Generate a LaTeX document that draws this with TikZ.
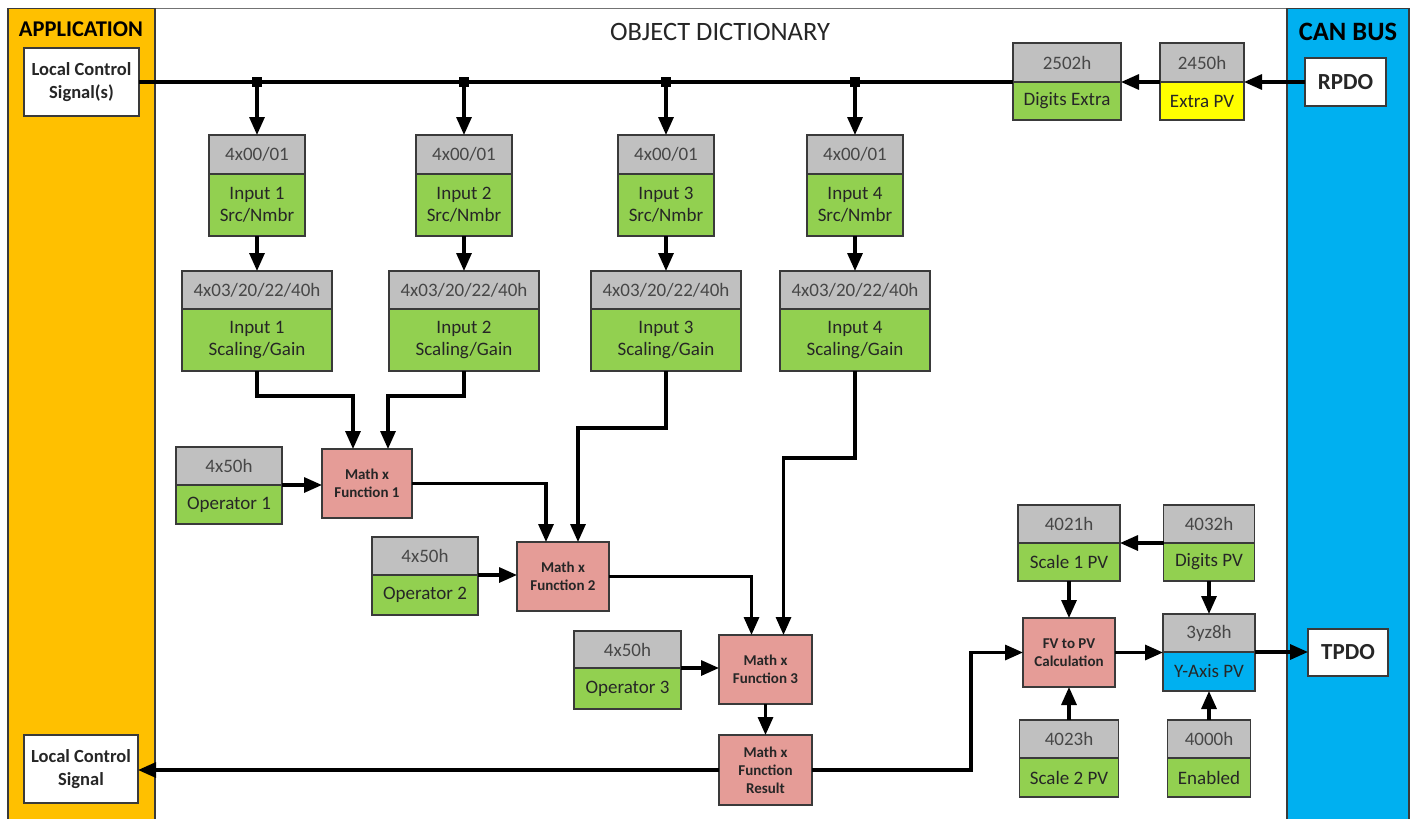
\documentclass[tikz,border=0pt]{standalone}
\usepackage{fontspec}
\setmainfont{Carlito}
\usetikzlibrary{arrows.meta}

\definecolor{appOrange}{HTML}{FFC000}
\definecolor{canBlue}{HTML}{00B0F0}
\definecolor{odGreen}{HTML}{92D050}
\definecolor{odGray}{HTML}{C0C0C0}
\definecolor{mathPink}{HTML}{E59C97}
\definecolor{pvYellow}{HTML}{FFFF00}
\definecolor{edge}{HTML}{3A3A3A}

\begin{document}
\begin{tikzpicture}[x=1pt,y=-1pt,
    box/.style={draw=edge,line width=1.7pt,inner sep=0pt,outer sep=0pt,align=center,text=black!85,font=\fontsize{19}{22}\selectfont},
    hd/.style={box,fill=odGray,text=black!72},
    bd/.style={box,fill=odGreen},
    mathbox/.style={box,fill=mathPink,font=\bfseries\fontsize{15}{18}\selectfont},
    sigbox/.style={box,fill=white,font=\bfseries\fontsize{18.5}{23}\selectfont},
    pdo/.style={box,fill=white,font=\bfseries\fontsize{23}{26}\selectfont},
    junc/.style={fill=black,minimum size=10pt,inner sep=0pt},
    arr/.style={line width=3.2pt,-{Triangle[length=18pt,width=15pt]}},
    wire/.style={line width=3.2pt}]

    \useasboundingbox (0,0) rectangle (1414,819);
    \clip (0,0) rectangle (1414,819);
    \fill[white] (0,0) rectangle (1414,819);

    %Panels
    \draw[black!55,line width=1.5pt] (8,8.5) rectangle (1409,840);
    \draw[fill=appOrange,draw=edge,line width=1.8pt] (8,8.5) rectangle (155,840);
    \draw[fill=canBlue,draw=edge,line width=1.8pt] (1287,8.5) rectangle (1409,840);
    \node[font=\bfseries\fontsize{22.5}{26}\selectfont] (app) at (81,29) {APPLICATION};
    \node[font=\bfseries\fontsize{26.5}{30}\selectfont] (can) at (1348,32) {CAN BUS};
    \node[font=\fontsize{26.5}{30}\selectfont,text=black!85] (od) at (720,32) {OBJECT DICTIONARY};

    %Application and CAN boxes
    \node[sigbox,minimum width=115pt,minimum height=68pt] (lcs1) at (81.5,82) {Local Control\\Signal(s)};
    \node[sigbox,minimum width=114pt,minimum height=68pt] (lcs2) at (81,769) {Local Control\\Signal};
    \node[pdo,minimum width=81pt,minimum height=48pt] (rpdo) at (1345.5,82) {RPDO};
    \node[pdo,minimum width=80pt,minimum height=47pt] (tpdo) at (1348,652.5) {TPDO};

    %Extra PV
    \node[hd,minimum width=84pt,minimum height=39pt] (exh) at (1202,62.5) {2450h};
    \node[bd,fill=pvYellow,minimum width=84pt,minimum height=38pt,anchor=north] (ex) at (exh.south) {Extra PV};
    \node[hd,minimum width=108pt,minimum height=39pt] (deh) at (1067,62.5) {2502h};
    \node[bd,minimum width=108pt,minimum height=38pt,anchor=north] (de) at (deh.south) {Digits Extra};
    \draw[wire] (deh.south west) -- (lcs1.east);
    \draw[arr] (rpdo.west) -- (exh.south east);
    \draw[arr] (exh.south west) -- (deh.south east);

    %Input 1
    \node[junc] (j1) at (257,82) {};
    \node[hd,minimum width=96pt,minimum height=39pt] (s1h) at (257,154.5) {4x00/01};
    \node[bd,minimum width=96pt,minimum height=62pt,anchor=north] (s1) at (s1h.south) {Input 1\\Src/Nmbr};
    \node[hd,minimum width=150pt,minimum height=38pt] (g1h) at (257,290) {4x03/20/22/40h};
    \node[bd,minimum width=150pt,minimum height=62pt,anchor=north] (g1) at (g1h.south) {Input 1\\Scaling/Gain};
    \draw[arr] (j1.center) -- (s1h.north);
    \draw[arr] (s1.south) -- (g1h.north);

    %Input 2
    \node[junc] (j2) at (464,82) {};
    \node[hd,minimum width=96pt,minimum height=39pt] (s2h) at (464,154.5) {4x00/01};
    \node[bd,minimum width=96pt,minimum height=62pt,anchor=north] (s2) at (s2h.south) {Input 2\\Src/Nmbr};
    \node[hd,minimum width=150pt,minimum height=38pt] (g2h) at (464,290) {4x03/20/22/40h};
    \node[bd,minimum width=150pt,minimum height=62pt,anchor=north] (g2) at (g2h.south) {Input 2\\Scaling/Gain};
    \draw[arr] (j2.center) -- (s2h.north);
    \draw[arr] (s2.south) -- (g2h.north);

    %Input 3
    \node[junc] (j3) at (666,82) {};
    \node[hd,minimum width=96pt,minimum height=39pt] (s3h) at (666,154.5) {4x00/01};
    \node[bd,minimum width=96pt,minimum height=62pt,anchor=north] (s3) at (s3h.south) {Input 3\\Src/Nmbr};
    \node[hd,minimum width=150pt,minimum height=38pt] (g3h) at (666,290) {4x03/20/22/40h};
    \node[bd,minimum width=150pt,minimum height=62pt,anchor=north] (g3) at (g3h.south) {Input 3\\Scaling/Gain};
    \draw[arr] (j3.center) -- (s3h.north);
    \draw[arr] (s3.south) -- (g3h.north);

    %Input 4
    \node[junc] (j4) at (855,82) {};
    \node[hd,minimum width=96pt,minimum height=39pt] (s4h) at (855,154.5) {4x00/01};
    \node[bd,minimum width=96pt,minimum height=62pt,anchor=north] (s4) at (s4h.south) {Input 4\\Src/Nmbr};
    \node[hd,minimum width=150pt,minimum height=38pt] (g4h) at (855,290) {4x03/20/22/40h};
    \node[bd,minimum width=150pt,minimum height=62pt,anchor=north] (g4) at (g4h.south) {Input 4\\Scaling/Gain};
    \draw[arr] (j4.center) -- (s4h.north);
    \draw[arr] (s4.south) -- (g4h.north);

    %Math function 1
    \node[mathbox,minimum width=90pt,minimum height=69pt] (m1) at (367,483.5) {Math x\\Function 1};
    \node[hd,minimum width=106pt,minimum height=38pt] (o1h) at (229,466) {4x50h};
    \node[bd,minimum width=106pt,minimum height=39pt,anchor=north] (o1) at (o1h.south) {Operator 1};
    \draw[arr] (o1h.south east) -- (o1h.south east -| m1.west);
    \draw[arr] (g1.south) -- ++(0,25) -| ([xshift=-14pt]m1.north);
    \draw[arr] (g2.south) -- ++(0,25) -| ([xshift=21pt]m1.north);

    %Math function 2
    \node[mathbox,minimum width=92pt,minimum height=69pt] (m2) at (563,576.5) {Math x\\Function 2};
    \node[hd,minimum width=106pt,minimum height=38pt] (o2h) at (425,556) {4x50h};
    \node[bd,minimum width=106pt,minimum height=40pt,anchor=north] (o2) at (o2h.south) {Operator 2};
    \draw[arr] (o2h.south east) -- (o2h.south east -| m2.west);
    \draw[arr] (m1.east) -| ([xshift=-17pt]m2.north);
    \draw[arr] (g3.south) -- ++(0,57) -| ([xshift=15pt]m2.north);

    %Math function 3
    \node[mathbox,minimum width=93pt,minimum height=69pt] (m3) at (765.5,669.5) {Math x\\Function 3};
    \node[hd,minimum width=107pt,minimum height=37pt] (o3h) at (627.5,649.5) {4x50h};
    \node[bd,minimum width=107pt,minimum height=41pt,anchor=north] (o3) at (o3h.south) {Operator 3};
    \draw[arr] (o3h.south east) -- (o3h.south east -| m3.west);
    \draw[arr] (m2.east) -| ([xshift=-14pt]m3.north);
    \draw[arr] (g4.south) -- ++(0,87) -| ([xshift=18pt]m3.north);

    %Result
    \node[mathbox,minimum width=93pt,minimum height=70pt] (res) at (765.5,770) {Math x\\Function\\Result};
    \draw[arr] (m3.south) -- (res.north);
    \draw[arr] (res.west) -- (res.west -| lcs2.east);

    %PV calculation
    \node[mathbox,minimum width=92pt,minimum height=69pt] (fv) at (1069,652.5) {FV to PV\\Calculation};
    \node[hd,minimum width=102pt,minimum height=38pt] (pv1h) at (1069,524) {4021h};
    \node[bd,minimum width=102pt,minimum height=38pt,anchor=north] (pv1) at (pv1h.south) {Scale 1 PV};
    \node[hd,minimum width=91pt,minimum height=38pt] (dpvh) at (1209,524) {4032h};
    \node[bd,minimum width=91pt,minimum height=38pt,anchor=north] (dpv) at (dpvh.south) {Digits PV};
    \node[hd,minimum width=92pt,minimum height=38pt] (yah) at (1209,633) {3yz8h};
    \node[bd,fill=canBlue,minimum width=92pt,minimum height=39pt,anchor=north] (ya) at (yah.south) {Y-Axis PV};
    \node[hd,minimum width=99pt,minimum height=38pt] (pv2h) at (1069,739) {4023h};
    \node[bd,minimum width=99pt,minimum height=39pt,anchor=north] (pv2) at (pv2h.south) {Scale 2 PV};
    \node[hd,minimum width=83pt,minimum height=38pt] (enh) at (1209,739) {4000h};
    \node[bd,minimum width=83pt,minimum height=39pt,anchor=north] (en) at (enh.south) {Enabled};
    \draw[arr] (res.east) -- ++(159,0) |- (fv.west);
    \draw[arr] (dpvh.south west) -- (pv1h.south east);
    \draw[arr] (pv1.south) -- (fv.north);
    \draw[arr] (dpv.south) -- (yah.north);
    \draw[arr] (fv.east) -- (fv.east -| yah.west);
    \draw[arr] (yah.south east) -- (yah.south east -| tpdo.west);
    \draw[arr] (pv2h.north) -- (fv.south);
    \draw[arr] (enh.north) -- (ya.south);
\end{tikzpicture}
\end{document}
